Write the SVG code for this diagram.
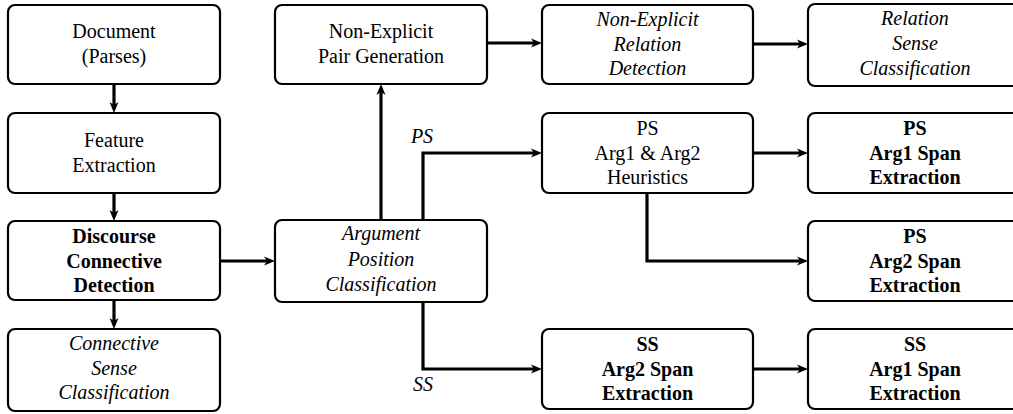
<svg xmlns="http://www.w3.org/2000/svg" width="1013" height="414" viewBox="0 0 1013 414" font-family="'Liberation Serif', 'DejaVu Serif', serif">
<style>
.box{fill:#fff;stroke:#000;stroke-width:2.2}
text{font-family:'Liberation Serif','DejaVu Serif',serif;font-size:20px;fill:#000;text-anchor:middle}
.b{font-weight:bold}
.i{font-style:italic}
.c{fill:none;stroke:#000;stroke-width:3.2;marker-end:url(#ah)}
</style>
<defs>
<marker id="ah" markerUnits="userSpaceOnUse" markerWidth="12" markerHeight="10" refX="6" refY="4.5" orient="auto" overflow="visible">
<path d="M0,0 L11,4.5 L0,9 L3,4.5 z" fill="#000"/>
</marker>
</defs>
<g id="connectors">
<path class="c" d="M114,84 V108"/>
<path class="c" d="M114,193 V216"/>
<path class="c" d="M114,300 V324"/>
<path class="c" d="M220,261 H270"/>
<path class="c" d="M381,220 V89"/>
<path class="c" d="M487,43 H537"/>
<path class="c" d="M753,44 H803"/>
<path class="c" d="M423,220 V153 H537"/>
<path class="c" d="M423,302 V369 H537"/>
<path class="c" d="M753,153 H803"/>
<path class="c" d="M647,193 V261 H803"/>
<path class="c" d="M753,369 H803"/>
<text class="i" x="422" y="143">PS</text>
<text class="i" x="423" y="391">SS</text>
</g>
<g id="doc">
<rect class="box" x="8" y="5" width="212" height="79" rx="7"/>
<text x="114" y="37.5">Document</text>
<text x="114" y="62.5">(Parses)</text>
</g>
<g id="feat">
<rect class="box" x="8" y="113" width="212" height="80" rx="7"/>
<text x="114" y="146.5">Feature</text>
<text x="114" y="171.5">Extraction</text>
</g>
<g id="disc">
<rect class="box" x="8" y="221" width="212" height="79" rx="7"/>
<text class="b" x="114" y="243">Discourse</text>
<text class="b" x="114" y="268">Connective</text>
<text class="b" x="114" y="292">Detection</text>
</g>
<g id="conn">
<rect class="box" x="8" y="329" width="212" height="82" rx="7"/>
<text class="i" x="114" y="350">Connective</text>
<text class="i" x="114" y="375">Sense</text>
<text class="i" x="114" y="399">Classification</text>
</g>
<g id="nepg">
<rect class="box" x="275" y="5" width="212" height="79" rx="7"/>
<text x="381" y="38">Non-Explicit</text>
<text x="381" y="63">Pair Generation</text>
</g>
<g id="arg">
<rect class="box" x="275" y="220" width="212" height="82" rx="7"/>
<text class="i" x="381" y="240">Argument</text>
<text class="i" x="381" y="266">Position</text>
<text class="i" x="381" y="291">Classification</text>
</g>
<g id="nerd">
<rect class="box" x="542" y="5" width="211" height="79" rx="7"/>
<text class="i" x="647.5" y="26">Non-Explicit</text>
<text class="i" x="647.5" y="51">Relation</text>
<text class="i" x="647.5" y="75">Detection</text>
</g>
<g id="psh">
<rect class="box" x="542" y="113" width="211" height="80" rx="7"/>
<text x="647.5" y="135">PS</text>
<text x="647.5" y="160">Arg1 &amp; Arg2</text>
<text x="647.5" y="184">Heuristics</text>
</g>
<g id="ssa2">
<rect class="box" x="542" y="329" width="211" height="80" rx="7"/>
<text class="b" x="647.5" y="351">SS</text>
<text class="b" x="647.5" y="376">Arg2 Span</text>
<text class="b" x="647.5" y="400">Extraction</text>
</g>
<g id="rsc">
<rect class="box" x="808" y="4" width="220" height="82" rx="7"/>
<text class="i" x="915" y="25">Relation</text>
<text class="i" x="915" y="50">Sense</text>
<text class="i" x="915" y="75">Classification</text>
</g>
<g id="psa1">
<rect class="box" x="808" y="113" width="220" height="80" rx="7"/>
<text class="b" x="915" y="135">PS</text>
<text class="b" x="915" y="160">Arg1 Span</text>
<text class="b" x="915" y="184">Extraction</text>
</g>
<g id="psa2">
<rect class="box" x="808" y="221" width="220" height="80" rx="7"/>
<text class="b" x="915" y="243">PS</text>
<text class="b" x="915" y="268">Arg2 Span</text>
<text class="b" x="915" y="292">Extraction</text>
</g>
<g id="ssa1">
<rect class="box" x="808" y="329" width="220" height="80" rx="7"/>
<text class="b" x="915" y="351">SS</text>
<text class="b" x="915" y="376">Arg1 Span</text>
<text class="b" x="915" y="400">Extraction</text>
</g>
</svg>
